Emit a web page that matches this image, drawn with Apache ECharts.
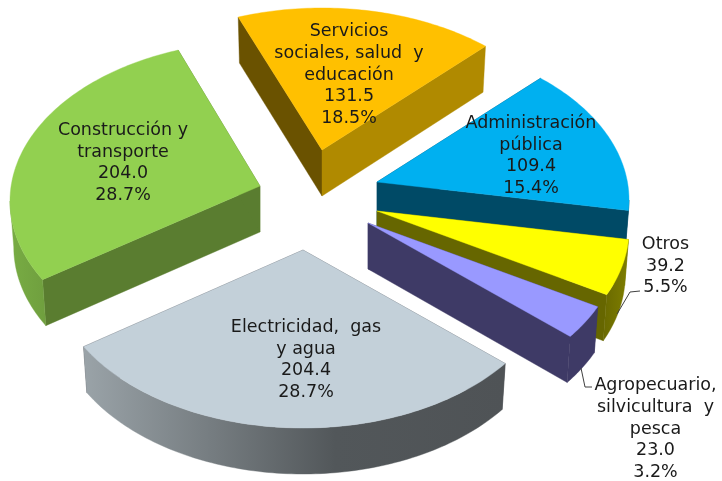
<!DOCTYPE html>
<html><head><meta charset="utf-8">
<style>html,body{margin:0;padding:0;background:#fff}#c{width:722px;height:481px}</style>
<script src="https://cdn.jsdelivr.net/npm/echarts@6/dist/echarts.min.js"></script>
</head><body><div id="c"></div>
<script>
// ---- data ----
const categories = ['Servicios\nsociales, salud  y\neducación','Administración\npública','Otros','Agropecuario,\nsilvicultura  y\npesca','Electricidad,  gas\ny agua','Construcción y\ntransporte'];
const values = [131.5,109.4,39.2,23.0,204.4,204.0];
const shares = ['18.5%','15.4%','5.5%','3.2%','28.7%','28.7%'];

// ---- styling / layout (not data) ----
const START = -21.7, RX = 250.4, RY = 158, PERSP = 0.1125, DEPTH = 46, SHRINK = 0.985;
const center = [310,200];
const explode = [[12,-50],[67,-18],[67,11],[58,23],[-7,50],[-50,-14]];
const rimShift = [[0,0],[0,0],[0,0],[0,0],[0,0],[2,-3]];
const topColors = ['#FFC000','#00B0F0','#FFFF00','#9999FF','#C3D0D9','#92D050'];
const startWall = ['#6A5200','#004A66','#7F7F00','#3E3A66','#505458','#5A7D30'];
const endWall   = ['#B08A00','#004A66','#666600','#3E3A66','#505458','#5A7D30'];
const arcWall = [
  '#B08A00','#004A66',
  {type:'linear',x:600,y:0,x2:630,y2:0,global:true,colorStops:[{offset:0,color:'#666600'},{offset:1,color:'#807F00'}]},
  '#3E3A66',
  {type:'linear',x:84,y:0,x2:503,y2:0,global:true,colorStops:[{offset:0,color:'#9AA3A8'},{offset:0.6,color:'#52575A'},{offset:1,color:'#4F5356'}]},
  {type:'linear',x:10,y:0,x2:60,y2:0,global:true,colorStops:[{offset:0,color:'#78AC44'},{offset:1,color:'#6C9A3C'}]}
];
const labelPos = [[349,75],[531,156],[665.5,266],[655.5,429],[306,360],[123,163]];
const leaders = {2:[[617,314],[630,292],[640,291]],3:[[581,368],[585,387],[592,387]]};
const LINE_H = 21.6;

const total = values.reduce((a,b)=>a+b,0);
function proj(deg, s){
  const t = deg*Math.PI/180, X = Math.sin(t), Y = Math.cos(t), w = 1+PERSP*Y;
  return [RX*X/w + s[0], -RY*Y/w + s[1]];
}
function sample(a,b,s){
  const n = Math.max(4, Math.ceil(b-a)), out = [];
  for(let k=0;k<=n;k++) out.push(proj(a+(b-a)*k/n, s));
  return out;
}
function renderItem(params, api){
  const i = params.dataIndex;
  let before = 0; for(let k=0;k<i;k++) before += values[k];
  const a0 = START + before/total*360, a1 = a0 + api.value(0)/total*360;
  const ax = center[0]+explode[i][0], ay = center[1]+explode[i][1];
  const top = p => [ax+p[0], ay+p[1]];
  const bot = p => [ax+p[0]*SHRINK, ay+p[1]+DEPTH];
  const arc = sample(a0,a1,rimShift[i]);
  const poly = (pts, fill, z2) => ({type:'polygon', z2, shape:{points:pts}, style:{fill, stroke:fill, lineWidth:0.4}});
  const first = arc[0], last = arc[arc.length-1], o = [0,0];
  const children = [
    poly([top(o),top(first),bot(first),bot(o)], startWall[i], 1),
    poly([top(o),top(last),bot(last),bot(o)], endWall[i], 1)
  ];
  // only the part of the rim that faces the viewer
  const limit = Math.acos(-PERSP)*180/Math.PI;
  const v0 = Math.max(a0, limit), v1 = Math.min(a1, 360-limit);
  if(v1>v0){
    const vis = sample(v0,v1,rimShift[i]);
    children.push(poly(vis.map(top).concat(vis.slice().reverse().map(bot)), arcWall[i], 2));
  }
  children.push(poly([top(o)].concat(arc.map(top)), topColors[i], 3));
  children.push({type:'text', z2:100, style:{
      text: categories[i]+'\n'+values[i].toFixed(1)+'\n'+shares[i],
      x: labelPos[i][0], y: labelPos[i][1], align:'center', verticalAlign:'middle',
      fontFamily:'DejaVu Sans', fontSize:17.5, lineHeight: LINE_H, fill:'#1A1A1A'}});
  if(leaders[i]) children.push({type:'polyline', z2:50, shape:{points:leaders[i]}, style:{fill:'none', stroke:'#404040', lineWidth:1}});
  return {type:'group', children};
}
const chart = echarts.init(document.getElementById('c'), null, {renderer:'canvas'});
chart.setOption({
  animation:false, backgroundColor:'#fff',
  series:[{type:'custom', coordinateSystem:'none', silent:true, renderItem, data: values.map(v=>[v])}]
});
</script></body></html>
